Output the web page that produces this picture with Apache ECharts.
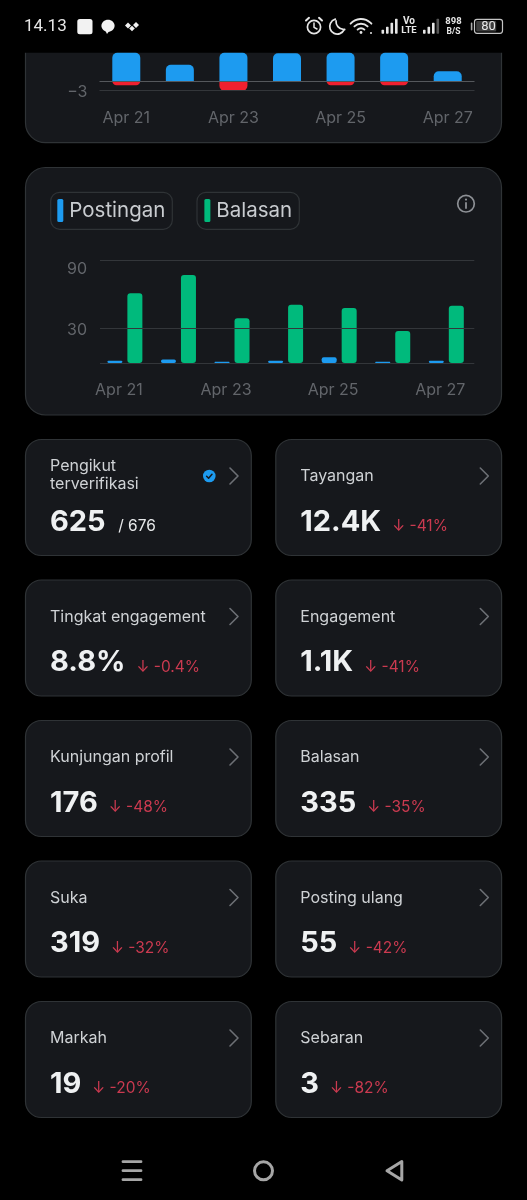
<!DOCTYPE html>
<html><head><meta charset="utf-8">
<style>html,body{margin:0;padding:0;background:#000}#c{width:527px;height:1200px}</style>
<script src="https://cdn.jsdelivr.net/npm/echarts@6/dist/echarts.min.js"></script>
</head><body><div id="c"></div>
<script>
const days = ['Apr 21','Apr 22','Apr 23','Apr 24','Apr 25','Apr 26','Apr 27'];
const gains = [12, 5, 14, 8.6, 12, 13, 3];
const losses = [-1.3, 0, -3, 0, -1.3, -1.3, 0];
const postingan = [2, 3, 1, 2, 5, 1, 2];
const balasan = [61, 77, 39, 51, 48, 28, 50];
const cardTitles = ['Pengikut\nterverifikasi','Tayangan','Tingkat engagement','Engagement','Kunjungan profil','Balasan','Suka','Posting ulang','Markah','Sebaran'];
const cardValues = ['625','12.4K','8.8%','1.1K','176','335','319','55','19','3'];
const cardDeltas = ['/ 676','↓ -41%','↓ -0.4%','↓ -41%','↓ -48%','↓ -35%','↓ -32%','↓ -42%','↓ -20%','↓ -82%'];

const FONT = 'Inter, "Noto Sans", sans-serif';
const CARD = '#16181c', EDGE = '#2f3336', TICK = '#62656a', BLUE = '#1d9bf0', RED = '#f0202f', GREEN = '#00ba7c', NAV = '#a6a6a6', ST = '#e6e6e6';
const g = [];
const rect = (x,y,w,h,r,fill,stroke,lw) => g.push({type:'rect',shape:{x,y,width:w,height:h,r},style:{fill:fill||'transparent',stroke:stroke||null,lineWidth:lw||1}});
const circ = (cx,cy,r,fill,stroke,lw) => g.push({type:'circle',shape:{cx,cy,r},style:{fill:fill||'transparent',stroke:stroke||null,lineWidth:lw||1}});
const line = (pts,stroke,lw) => g.push({type:'polyline',shape:{points:pts},style:{fill:'transparent',stroke,lineWidth:lw,lineCap:'round',lineJoin:'round'}});
const poly = (pts,fill,stroke,lw) => g.push({type:'polygon',shape:{points:pts},style:{fill:fill||'transparent',stroke:stroke||null,lineWidth:lw||1,lineJoin:'round'}});
const arc = (cx,cy,r,a,b,stroke,lw,cw) => g.push({type:'arc',shape:{cx,cy,r,startAngle:a*Math.PI/180,endAngle:b*Math.PI/180,clockwise:cw!==false},style:{fill:'transparent',stroke,lineWidth:lw,lineCap:'round'}});
const txt = (x,y,text,size,weight,fill,family,align,lh) => g.push({type:'text',x,y,style:{text,font:`${weight} ${size}px ${family||FONT}`,fill,align:align||'left',verticalAlign:'middle',lineHeight:lh}});
const diamond = (cx,cy,r) => poly([[cx-r,cy],[cx,cy-r],[cx+r,cy],[cx,cy+r]],'#f2f2f2');
const measure = document.createElement('canvas').getContext('2d');

// chart panels
rect(25.5,-40,476,182.7,20,CARD,EDGE,1.2);
rect(0,0,527,52.7,0,'#000');
rect(25.5,167.5,476,247.5,20,CARD,EDGE,1.2);
rect(50.7,192.3,121.6,37,9,null,EDGE,1.2);
rect(197,192.3,102.3,37,9,null,EDGE,1.2);
circ(466,203.7,8.3,null,'#8d9095',1.7);
circ(466,199.6,1.1,'#8d9095');
line([[466,203],[466,208]],'#8d9095',1.8);

// stat cards
const colX = [25.5,275.8], rowY = [439.5,580,720.5,861,1001.5];
cardTitles.forEach((t,i)=>{
  const x = colX[i%2], y = rowY[Math.floor(i/2)];
  rect(x,y,225.8,116,16,CARD,EDGE,1.2);
  if(i===0) txt(x+24.5,y+36,t,16,400,'#cfd2d5',FONT,'left',18);
  else txt(x+24.5,y+37,t,16,400,'#cfd2d5');
  line([[x+204.5,y+28.5],[x+212.5,y+36.5],[x+204.5,y+44.5]],'#6d7075',1.6);
  txt(x+24.5,y+82.5,cardValues[i],29,700,'#eff1f2');
  measure.font = `700 29px ${FONT}`;
  const w = measure.measureText(cardValues[i]).width;
  txt(x+24.5+w+(i===0?12.5:11),y+87,cardDeltas[i],15.5,400,i===0?'#e7e9ea':'#cb3a50');
});
// verified badge
circ(209.3,476,6.3,BLUE);
line([[206.6,476.2],[208.6,478.2],[212,474.2]],'#16181c',1.5);

// status bar
txt(24,27,'14.13',17,400,ST,'Roboto');
rect(77.3,19,15.2,15.3,2.5,'#f2f2f2');
g.push({type:'ellipse',shape:{cx:108,cy:25.7,rx:6.6,ry:6},style:{fill:'#f2f2f2'}});
poly([[104.5,29],[110,30],[107,34]],'#f2f2f2');
diamond(128,25.5,3);
diamond(136,25,3);
diamond(132,28.5,2.8);
// alarm
circ(314,27,6.6,null,ST,1.7);
line([[314,23],[314,27.3],[317,29]],ST,1.5);
line([[306,20.5],[309,17.8]],ST,2);
line([[319,17.8],[322,20.5]],ST,2);
// moon
arc(337.3,26.5,7.6,25,255,ST,1.7);
arc(344,21.5,8,185,85,ST,1.7,false);
// wifi
arc(361,33,14,222,318,ST,1.9);
arc(361,33,9.3,225,315,ST,1.9);
arc(361,33,4.8,225,315,ST,1.9);
circ(361,32.5,1.4,ST);
circ(371,33,1,ST);
// signal 1
[[381.5,4],[386,7],[390.5,11],[395,15]].forEach(b=>rect(b[0],33.7-b[1],2.6,b[1],0.6,ST));
txt(409,21.7,'Vo',10,700,ST,'Roboto','center');
txt(409,31,'LTE',9.5,700,ST,'Roboto','center');
// signal 2
[[423,4,ST],[427.5,7,ST],[432,11,ST],[436.5,15,'#555']].forEach(b=>rect(b[0],33.7-b[1],2.6,b[1],0.6,b[2]));
txt(453.5,21.5,'898',9.5,700,ST,'Roboto','center');
txt(453.5,32,'B/S',8.5,700,ST,'Roboto','center');
// battery
rect(470.8,22.5,1.6,8,0.8,'#aaa');
rect(474.5,19.3,28,14,2.5,null,'#c4c4c4',1.2);
rect(476.2,21,20,10.6,1,'#3d3d3d');
txt(488.5,26.5,'80',13,400,ST,'Roboto','center');

// nav bar
[1161.7,1170.7,1179.7].forEach(y=>line([[123,y],[141,y]],NAV,2.8));
circ(263.5,1170.8,9,null,NAV,3);
poly([[401.8,1161.5],[401.8,1180],[387,1170.7]],null,NAV,3);

const gridLines = (vals) => ({
  silent:true, symbol:'none', animation:false, label:{show:false},
  data: vals.map(v=>({yAxis:v[0],lineStyle:{color:v[1],width:1,type:'solid'}}))
});
const catAxis = (gridIndex,extra) => Object.assign({type:'category',gridIndex,data:days,axisLine:{show:false},axisTick:{show:false},splitLine:{show:false}},extra);
const tickLabels = {color:TICK,fontFamily:FONT,fontSize:16,interval:1};
const richTick = (top) => ({color:TICK,fontFamily:FONT,fontSize:16,padding:[top,0,0,0]});

const chart = echarts.init(document.getElementById('c'),null,{width:527,height:1200});
chart.setOption({
  backgroundColor:'#000',
  animation:false,
  graphic:{elements:g},
  legend:{
    data:['Postingan','Balasan'], left:57.3, top:199, itemWidth:6, itemHeight:23, itemGap:39, padding:0,
    icon:'roundRect', selectedMode:false, textStyle:{color:'#c9ccd0',fontSize:20.5,fontFamily:FONT,padding:[2,0,0,1]}
  },
  grid:[
    {left:99.5,width:375,top:52.7,height:38},
    {left:100,width:374.3,top:260,height:103},
    {left:98.1,width:375,top:260,height:103}
  ],
  xAxis:[
    catAxis(0,{axisLabel:Object.assign({margin:19},tickLabels)}),
    catAxis(1,{axisLabel:{show:false}}),
    catAxis(2,{axisLabel:Object.assign({margin:19,padding:[0,12,0,0]},tickLabels)})
  ],
  yAxis:[
    {type:'value',gridIndex:0,min:-3,max:8.76,interval:3,axisLine:{show:false},axisTick:{show:false},splitLine:{show:false},
     axisLabel:{color:TICK,fontFamily:FONT,fontSize:16,margin:12,formatter:v=>v===-3?'{m|−3}':'',rich:{m:richTick(2)}}},
    {type:'value',gridIndex:1,min:0,max:90,interval:30,axisLine:{show:false},axisTick:{show:false},splitLine:{show:false},
     axisLabel:{color:TICK,fontFamily:FONT,fontSize:16,margin:13,formatter:v=>v===30?'{m|30}':(v===90?'{t|90}':''),rich:{m:richTick(4),t:richTick(19)}}},
    {type:'value',gridIndex:2,min:0,max:90,interval:30,show:false}
  ],
  series:[
    {type:'line',xAxisIndex:0,yAxisIndex:0,data:[],z:1,markLine:gridLines([[0,'#55585c'],[-3,'#33363a']])},
    {name:'Naik',type:'bar',xAxisIndex:0,yAxisIndex:0,stack:'net',barWidth:28,data:gains,clip:true,z:3,itemStyle:{color:BLUE,borderRadius:[5,5,0,0]}},
    {name:'Turun',type:'bar',xAxisIndex:0,yAxisIndex:0,stack:'net',barWidth:28,data:losses,clip:true,z:3,itemStyle:{color:RED,borderRadius:[0,0,5,5]}},
    {type:'line',xAxisIndex:1,yAxisIndex:1,data:[],z:1,markLine:gridLines([[0,'#33363a'],[30,'#33363a'],[90,'#33363a']])},
    {name:'Postingan',type:'bar',xAxisIndex:2,yAxisIndex:2,barWidth:15,barGap:'33.3%',data:postingan,z:3,itemStyle:{color:BLUE,borderRadius:2}},
    {name:'Balasan',type:'bar',xAxisIndex:2,yAxisIndex:2,barWidth:15,barGap:'33.3%',data:balasan,z:3,itemStyle:{color:GREEN,borderRadius:3}}
  ]
});
</script></body></html>
